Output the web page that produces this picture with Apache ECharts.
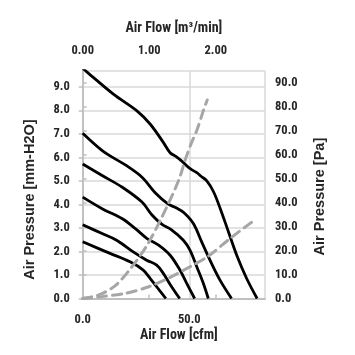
<!DOCTYPE html>
<html>
<head>
<meta charset="utf-8">
<script src="https://cdn.jsdelivr.net/npm/echarts@6/dist/echarts.min.js"></script>
<style>
html,body{margin:0;padding:0;background:#fff;}
#chart{width:355px;height:355px;}
</style>
</head>
<body>
<div id="chart"></div>
<script>
// Fan curves: [cfm, mm-H2O]
const fan1 = [[0,9.78],[1.9,9.64],[14.4,8.69],[25.3,7.99],[31.6,7.42],[37.8,6.64],[41,6.2],[44,6.02],[47,5.8],[50.4,5.52],[53.5,5.35],[55.5,5.2],[58.2,5.0],[61.3,4.55],[64.4,3.85],[68.3,2.85],[72.2,1.85],[76.9,0.85],[81.8,0]];
const fan2 = [[0,7.03],[9,6.3],[14.4,5.98],[20,5.68],[27.8,5.16],[34,4.5],[40,4.02],[44,3.85],[47.5,3.65],[51.9,3.19],[55.8,2.41],[59.7,1.63],[64.4,0.78],[69.8,0]];
const fan3 = [[0,5.72],[9.1,5.23],[18.4,4.74],[27.8,4.1],[32.5,3.55],[37.2,3.15],[41.5,2.93],[47.2,2.48],[50.3,2.06],[53.5,1.35],[56.6,0.64],[58.9,0]];
const fan4 = [[0,4.31],[9.1,3.82],[18.4,3.4],[24.7,2.97],[30.2,2.55],[35.6,2.27],[41,1.84],[45.6,1.21],[48.8,0.64],[52.5,0]];
const fan5 = [[0,3.14],[9.1,2.76],[15.9,2.48],[23.7,1.98],[30,1.63],[34.7,1.42],[37.8,1.07],[41,0.6],[45.5,0]];
const fan6 = [[0,2.41],[12.8,1.92],[22.2,1.56],[28.4,1.21],[31.6,0.86],[34.7,0.5],[39,0]];
// System impedance curves: [cfm, mm-H2O]
const sysHigh = [[0,0],[7.5,0.15],[15.3,0.55],[23.1,1.35],[30.2,2.27],[37.2,3.47],[45,5.02],[48,5.87],[51.1,6.64],[53.5,7.14],[56.6,7.99],[58.4,8.44]];
const sysLow = [[0,0],[9,0.08],[20,0.22],[31,0.5],[41.5,0.92],[50.3,1.35],[58.9,1.8],[69.1,2.55],[79.3,3.25]];

const FONT = "'Liberation Sans Narrow','Roboto Condensed','Liberation Sans',Arial,sans-serif";
const labelStyle = {fontFamily: FONT, fontWeight: 'bold', fontSize: 12.5, color: '#262626'};
const nameStyle = {fontFamily: FONT, fontWeight: 'bold', fontSize: 14, color: '#262626'};
const sideNameStyle = {fontFamily: "'Liberation Sans',Arial,sans-serif", fontWeight: 'bold', fontSize: 14.5, color: '#262626'};
const axisGray = '#bfbfbf';
const gridGray = '#d9d9d9';

const chart = echarts.init(document.getElementById('chart'), null, {renderer: 'canvas'});

function fanSeries(data) {
  return {type: 'line', xAxisIndex: 0, yAxisIndex: 0, data: data, smooth: 0.35, showSymbol: false, symbol: 'none',
    lineStyle: {color: '#000', width: 2.8}, clip: true, silent: true, z: 3};
}
function sysSeries(data) {
  return {type: 'line', xAxisIndex: 0, yAxisIndex: 0, data: data, smooth: 0.3, showSymbol: false, symbol: 'none',
    lineStyle: {color: '#a6a6a6', width: 3, type: [9, 6], cap: 'round'}, clip: true, silent: true, z: 4};
}

chart.setOption({
  animation: false,
  backgroundColor: '#fff',
  grid: {left: 82.7, right: 90, top: 70.7, bottom: 56.5, containLabel: false},
  xAxis: [
    {type: 'value', position: 'bottom', min: 0, max: 85.5, interval: 50,
      name: 'Air Flow [cfm]', nameLocation: 'middle', nameGap: 30, nameMoveOverlap: false,
      nameTextStyle: Object.assign({}, nameStyle, {padding: [0, 0, 0, 10]}),
      axisLine: {show: true, lineStyle: {color: axisGray, width: 1.5}},
      axisTick: {show: false},
      splitLine: {show: true, lineStyle: {color: gridGray, width: 1.5}},
      axisLabel: Object.assign({}, labelStyle, {margin: 15, showMaxLabel: false, formatter: v => v.toFixed(1)})},
    {type: 'value', position: 'top', min: 0, max: 2.74, interval: 1,
      name: 'Air Flow [m³/min]', nameLocation: 'middle', nameGap: 35, nameMoveOverlap: false,
      nameTextStyle: nameStyle,
      axisLine: {show: true, lineStyle: {color: axisGray, width: 1.5}},
      axisTick: {show: true, inside: false, length: 4, lineStyle: {color: axisGray, width: 1.5}},
      splitLine: {show: false},
      axisLabel: Object.assign({}, labelStyle, {margin: 13, showMaxLabel: false, formatter: v => v.toFixed(2)})}
  ],
  yAxis: [
    {type: 'value', position: 'left', min: 0, max: 9.687, interval: 1,
      name: 'Air Pressure [mm-H2O]', nameLocation: 'middle', nameGap: 45, nameRotate: 90, nameMoveOverlap: false,
      nameTextStyle: Object.assign({}, sideNameStyle, {padding: [0, 30, 0, 0]}),
      axisLine: {show: true, lineStyle: {color: axisGray, width: 1.5}},
      axisTick: {show: true, inside: false, length: 4, lineStyle: {color: axisGray, width: 1.5}},
      splitLine: {show: true, lineStyle: {color: gridGray, width: 1.5}},
      axisLabel: Object.assign({}, labelStyle, {margin: 13, showMaxLabel: false, formatter: v => v.toFixed(1)})},
    {type: 'value', position: 'right', min: 0, max: 95, interval: 10,
      name: 'Air Pressure [Pa]', nameLocation: 'middle', nameGap: 47, nameRotate: 90, nameMoveOverlap: false,
      nameTextStyle: Object.assign({}, sideNameStyle, {padding: [0, 24, 0, 0]}),
      axisLine: {show: true, lineStyle: {color: axisGray, width: 1.5}},
      axisTick: {show: true, inside: false, length: 4, lineStyle: {color: axisGray, width: 1.5}},
      splitLine: {show: false},
      axisLabel: Object.assign({}, labelStyle, {margin: 10, showMaxLabel: false, formatter: v => v.toFixed(1)})}
  ],
  series: [
    fanSeries(fan1), fanSeries(fan2), fanSeries(fan3), fanSeries(fan4), fanSeries(fan5), fanSeries(fan6),
    sysSeries(sysHigh), sysSeries(sysLow)
  ]
});
</script>
</body>
</html>
